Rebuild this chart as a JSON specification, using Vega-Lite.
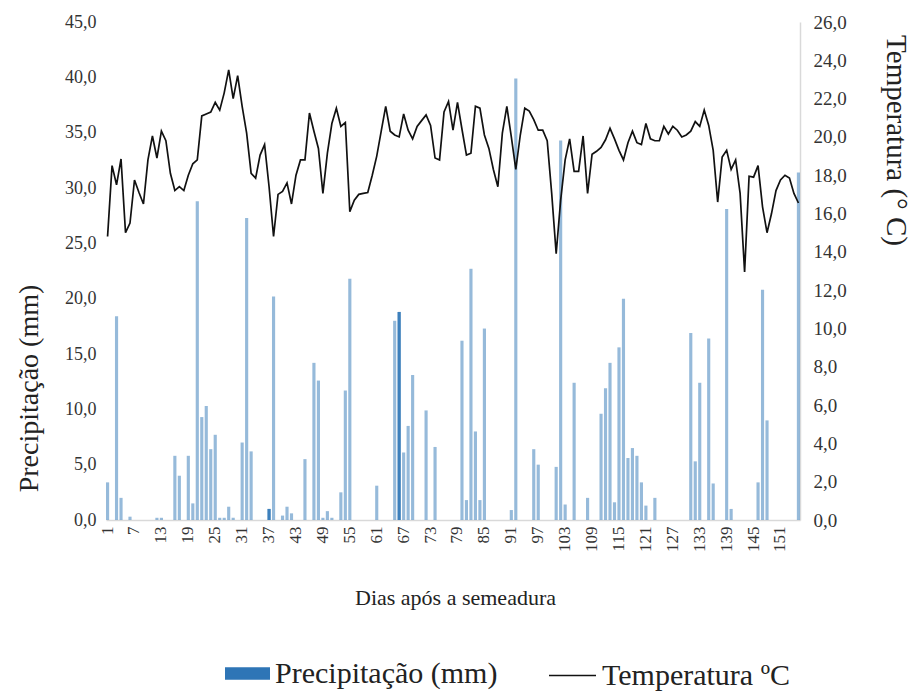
{
  "$schema": "https://vega.github.io/schema/vega-lite/v6.json",
  "width": 694,
  "height": 498,
  "autosize": {"type": "none"},
  "padding": {"left": 106, "top": 22, "right": 117, "bottom": 173},
  "background": "white",
  "config": {"view": {"stroke": null}, "font": "Liberation Serif"},
  "data": {"values": [
    {"dia":1,"prec":3.4,"temp":14.8},{"dia":2,"prec":0,"temp":18.5},{"dia":3,"prec":18.4,"temp":17.5},{"dia":4,"prec":2.0,"temp":18.85},{"dia":5,"prec":0,"temp":15.0},
    {"dia":6,"prec":0.3,"temp":15.5},{"dia":7,"prec":0,"temp":17.75},{"dia":8,"prec":0,"temp":17.1},{"dia":9,"prec":0,"temp":16.5},{"dia":10,"prec":0,"temp":18.8},
    {"dia":11,"prec":0,"temp":20.05},{"dia":12,"prec":0.2,"temp":18.9},{"dia":13,"prec":0.2,"temp":20.3},{"dia":14,"prec":0,"temp":19.8},{"dia":15,"prec":0,"temp":18.1},
    {"dia":16,"prec":5.8,"temp":17.2},{"dia":17,"prec":4.0,"temp":17.4},{"dia":18,"prec":0,"temp":17.2},{"dia":19,"prec":5.8,"temp":18.0},{"dia":20,"prec":1.5,"temp":18.6},
    {"dia":21,"prec":28.8,"temp":18.8},{"dia":22,"prec":9.3,"temp":21.1},{"dia":23,"prec":10.3,"temp":21.2},{"dia":24,"prec":6.4,"temp":21.3},{"dia":25,"prec":7.7,"temp":21.8},
    {"dia":26,"prec":0.2,"temp":21.4},{"dia":27,"prec":0.2,"temp":22.3},{"dia":28,"prec":1.2,"temp":23.5},{"dia":29,"prec":0.2,"temp":22.0},{"dia":30,"prec":0,"temp":23.2},
    {"dia":31,"prec":7.0,"temp":21.6},{"dia":32,"prec":27.3,"temp":20.2},{"dia":33,"prec":6.2,"temp":18.1},{"dia":34,"prec":0,"temp":17.85},{"dia":35,"prec":0,"temp":19.05},
    {"dia":36,"prec":0,"temp":19.6},{"dia":37,"prec":1.0,"temp":17.4},{"dia":38,"prec":20.2,"temp":14.8},{"dia":39,"prec":0,"temp":17.0},{"dia":40,"prec":0.4,"temp":17.15},
    {"dia":41,"prec":1.2,"temp":17.6},{"dia":42,"prec":0.6,"temp":16.5},{"dia":43,"prec":0,"temp":18.0},{"dia":44,"prec":0,"temp":18.8},{"dia":45,"prec":5.5,"temp":18.8},
    {"dia":46,"prec":0,"temp":21.25},{"dia":47,"prec":14.2,"temp":20.3},{"dia":48,"prec":12.6,"temp":19.4},{"dia":49,"prec":0.2,"temp":17.05},{"dia":50,"prec":0.8,"temp":19.15},
    {"dia":51,"prec":0.2,"temp":20.7},{"dia":52,"prec":0,"temp":21.5},{"dia":53,"prec":2.5,"temp":20.55},{"dia":54,"prec":11.7,"temp":20.75},{"dia":55,"prec":21.8,"temp":16.1},
    {"dia":56,"prec":0,"temp":16.7},{"dia":57,"prec":0,"temp":17.0},{"dia":58,"prec":0,"temp":17.05},{"dia":59,"prec":0,"temp":17.1},{"dia":60,"prec":0,"temp":18.0},
    {"dia":61,"prec":3.1,"temp":19.0},{"dia":62,"prec":0,"temp":20.3},{"dia":63,"prec":0,"temp":21.6},{"dia":64,"prec":0,"temp":20.3},{"dia":65,"prec":18.0,"temp":20.1},
    {"dia":66,"prec":18.8,"temp":20.0},{"dia":67,"prec":6.1,"temp":21.2},{"dia":68,"prec":8.5,"temp":20.35},{"dia":69,"prec":13.1,"temp":19.9},{"dia":70,"prec":0,"temp":20.55},
    {"dia":71,"prec":0,"temp":20.85},{"dia":72,"prec":9.9,"temp":21.15},{"dia":73,"prec":0,"temp":20.6},{"dia":74,"prec":6.6,"temp":18.9},{"dia":75,"prec":0,"temp":18.8},
    {"dia":76,"prec":0,"temp":21.3},{"dia":77,"prec":0,"temp":21.85},{"dia":78,"prec":0,"temp":20.35},{"dia":79,"prec":0,"temp":21.8},{"dia":80,"prec":16.2,"temp":20.4},
    {"dia":81,"prec":1.8,"temp":19.05},{"dia":82,"prec":22.7,"temp":19.15},{"dia":83,"prec":8.0,"temp":21.6},{"dia":84,"prec":1.8,"temp":21.5},{"dia":85,"prec":17.3,"temp":20.1},
    {"dia":86,"prec":0,"temp":19.4},{"dia":87,"prec":0,"temp":18.3},{"dia":88,"prec":0,"temp":17.4},{"dia":89,"prec":0,"temp":20.2},{"dia":90,"prec":0,"temp":21.6},
    {"dia":91,"prec":0.9,"temp":20.0},{"dia":92,"prec":39.9,"temp":18.3},{"dia":93,"prec":0,"temp":20.1},{"dia":94,"prec":0,"temp":21.5},{"dia":95,"prec":0,"temp":21.35},
    {"dia":96,"prec":6.4,"temp":20.9},{"dia":97,"prec":5.0,"temp":20.35},{"dia":98,"prec":0,"temp":20.35},{"dia":99,"prec":0,"temp":19.8},{"dia":100,"prec":0,"temp":17.05},
    {"dia":101,"prec":4.8,"temp":13.9},{"dia":102,"prec":34.3,"temp":16.7},{"dia":103,"prec":1.4,"temp":18.8},{"dia":104,"prec":0,"temp":19.9},{"dia":105,"prec":12.4,"temp":18.2},
    {"dia":106,"prec":0,"temp":18.2},{"dia":107,"prec":0,"temp":20.05},{"dia":108,"prec":2.0,"temp":17.05},{"dia":109,"prec":0,"temp":19.1},{"dia":110,"prec":0,"temp":19.25},
    {"dia":111,"prec":9.6,"temp":19.45},{"dia":112,"prec":11.9,"temp":19.85},{"dia":113,"prec":14.2,"temp":20.45},{"dia":114,"prec":1.6,"temp":19.9},{"dia":115,"prec":15.6,"temp":19.3},
    {"dia":116,"prec":20.0,"temp":18.8},{"dia":117,"prec":5.6,"temp":19.7},{"dia":118,"prec":6.5,"temp":20.3},{"dia":119,"prec":5.8,"temp":19.7},{"dia":120,"prec":3.4,"temp":19.6},
    {"dia":121,"prec":1.3,"temp":20.7},{"dia":122,"prec":0,"temp":19.9},{"dia":123,"prec":2.0,"temp":19.8},{"dia":124,"prec":0,"temp":19.8},{"dia":125,"prec":0,"temp":20.55},
    {"dia":126,"prec":0,"temp":20.15},{"dia":127,"prec":0,"temp":20.55},{"dia":128,"prec":0,"temp":20.35},{"dia":129,"prec":0,"temp":20.0},{"dia":130,"prec":0,"temp":20.1},
    {"dia":131,"prec":16.9,"temp":20.3},{"dia":132,"prec":5.3,"temp":20.8},{"dia":133,"prec":12.4,"temp":20.55},{"dia":134,"prec":0,"temp":21.4},{"dia":135,"prec":16.4,"temp":20.6},
    {"dia":136,"prec":3.3,"temp":19.3},{"dia":137,"prec":0,"temp":16.6},{"dia":138,"prec":0,"temp":18.95},{"dia":139,"prec":28.1,"temp":19.3},{"dia":140,"prec":1.0,"temp":18.3},
    {"dia":141,"prec":0,"temp":18.8},{"dia":142,"prec":0,"temp":17.05},{"dia":143,"prec":0,"temp":12.95},{"dia":144,"prec":0,"temp":17.95},{"dia":145,"prec":0,"temp":17.9},
    {"dia":146,"prec":3.4,"temp":18.5},{"dia":147,"prec":20.8,"temp":16.35},{"dia":148,"prec":9.0,"temp":15.0},{"dia":149,"prec":0,"temp":16.0},{"dia":150,"prec":0,"temp":17.2},
    {"dia":151,"prec":0,"temp":17.75},{"dia":152,"prec":0,"temp":18.0},{"dia":153,"prec":0,"temp":17.85},{"dia":154,"prec":0,"temp":17.05},{"dia":155,"prec":31.4,"temp":16.55}
  ]},
  "encoding": {
    "x": {
      "field": "dia", "type": "ordinal",
      "scale": {"paddingInner": 0.3, "paddingOuter": 0},
      "axis": {
        "values": [1,7,13,19,25,31,37,43,49,55,61,67,73,79,85,91,97,103,109,115,121,127,133,139,145,151],
        "labelAngle": -90, "labelFont": "Liberation Serif", "labelFontSize": 17, "labelColor": "#333333",
        "labelPadding": 6, "ticks": false, "domainColor": "#D9D9D9", "domainWidth": 1.5,
        "title": "Dias após a semeadura", "titleFont": "Liberation Serif", "titleFontSize": 22,
        "titleFontWeight": "normal", "titleColor": "#222222", "titleX": 349, "titleY": 77,
        "titleAlign": "center", "titleBaseline": "middle"
      }
    }
  },
  "layer": [
    {
      "mark": {"type": "bar", "opacity": 0.5},
      "encoding": {
        "y": {
          "field": "prec", "type": "quantitative", "scale": {"domain": [0, 45]},
          "axis": {
            "values": [0,5,10,15,20,25,30,35,40,45],
            "labelExpr": "replace(format(datum.value, '.1f'), '.', ',')",
            "grid": false, "domain": false, "ticks": false,
            "labelFont": "Liberation Serif", "labelFontSize": 18, "labelColor": "#333333", "labelPadding": 10,
            "title": "Precipitação (mm)", "titleFont": "Liberation Serif", "titleFontSize": 28,
            "titleFontWeight": "normal", "titleColor": "#222222",
            "titleAngle": -90, "titleX": -77, "titleY": 366, "titleAlign": "center", "titleBaseline": "middle"
          }
        },
        "color": {
          "datum": "Precipitação (mm)",
          "scale": {"range": ["#2E75B6"]},
          "legend": {
            "orient": "none", "legendX": 119, "legendY": 629, "title": null, "padding": 0,
            "symbolType": "M-1,-0.28H1V0.28H-1Z", "symbolSize": 2025, "symbolOpacity": 1,
            "symbolStrokeWidth": 0, "labelFont": "Liberation Serif", "labelFontSize": 30,
            "labelColor": "#222222", "labelOffset": 5, "labelLimit": 600
          }
        }
      }
    },
    {
      "transform": [{"filter": "datum.dia == 37 || datum.dia == 66"}],
      "mark": {"type": "bar", "color": "#2E75B6", "opacity": 0.85},
      "encoding": {
        "y": {"field": "prec", "type": "quantitative", "scale": {"domain": [0, 45]}, "axis": null}
      }
    },
    {
      "mark": {"type": "line", "strokeWidth": 1.7},
      "encoding": {
        "y": {
          "field": "temp", "type": "quantitative", "scale": {"domain": [0, 26]},
          "axis": {
            "orient": "right",
            "values": [0,2,4,6,8,10,12,14,16,18,20,22,24,26],
            "labelExpr": "replace(format(datum.value, '.1f'), '.', ',')",
            "grid": false, "ticks": false, "domainColor": "#D9D9D9", "domainWidth": 1.5,
            "labelFont": "Liberation Serif", "labelFontSize": 19, "labelColor": "#333333", "labelPadding": 13,
            "title": "Temperatura (° C)", "titleFont": "Liberation Serif", "titleFontSize": 29,
            "titleFontWeight": "normal", "titleColor": "#222222",
            "titleAngle": 90, "titleX": 95, "titleY": 118, "titleAlign": "center", "titleBaseline": "middle"
          }
        },
        "stroke": {
          "datum": "Temperatura ºC",
          "scale": {"range": ["#111111"]},
          "legend": {
            "orient": "none", "legendX": 442, "legendY": 629, "title": null, "padding": 0,
            "symbolType": "stroke", "symbolSize": 2209, "symbolStrokeWidth": 1.5,
            "labelFont": "Liberation Serif", "labelFontSize": 30,
            "labelColor": "#222222", "labelOffset": 5, "labelLimit": 600
          }
        }
      }
    }
  ],
  "resolve": {"scale": {"y": "independent"}}
}
